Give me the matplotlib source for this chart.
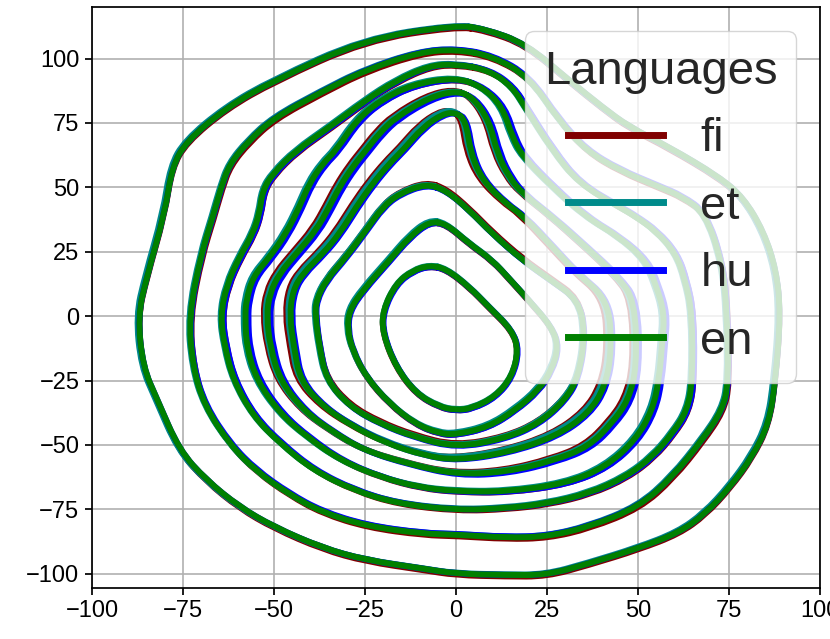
import numpy as np
import matplotlib
matplotlib.use("Agg")
import matplotlib.pyplot as plt
from matplotlib.path import Path
from matplotlib.patches import PathPatch
from matplotlib.lines import Line2D

plt.rcParams['font.family'] = ['Liberation Sans', 'DejaVu Sans']

# contour levels (outer -> inner), traced from the top going left
c1_x = [0, -25, -50, -63, -74, -78, -80, -85, -87.4, -86, -82, -76, -68.6, -59.5, -50, -36.6, -24.7, -9,
        0, 13.7, 25, 36.6, 50.3, 61.3, 68.6, 75.5, 81.4, 86, 87.8, 89.2, 88, 84.5, 79, 72.3, 58.5, 47.6,
        40.2, 31.1, 19.2, 8]
c1_y = [113, 107.5, 91.5, 81, 68, 58, 40, 15, 0, -19.7, -32.6, -52, -63.6, -74, -81.8, -90, -94.7, -98,
        -100, -100.5, -100.5, -96, -90, -84, -76.6, -66, -54.6, -41.7, -24.8, 1, 18, 33, 46, 54.1, 65.7,
        73.5, 81.2, 91.6, 105.8, 111.5]

c2_x = [0, -10, -25, -37, -50, -57, -62.2, -64.5, -66.8, -70, -73.4, -72.3, -69, -62, -55, -46, -37,
        -24.6, -9, 0, 13.7, 25, 36.6, 50.3, 59.5, 67.7, 73.2, 74.9, 74.5, 73.2, 68.6, 62, 55.8, 44.8,
        35.7, 28.3, 20.1, 10]
c2_y = [103.6, 102.5, 95.5, 87, 77, 68, 59, 50, 38.5, 24, 0, -19.7, -35, -50, -60, -69, -76, -81.5,
        -84.5, -84.8, -86, -85.6, -81.8, -74, -62.4, -48, -36.5, -26, 1, 20.4, 39.9, 46.5, 50.2, 56.7,
        64.4, 76, 92.9, 101]

c3_x = [0, -7.3, -16.5, -25, -34.8, -44, -50.3, -53.1, -54, -55.8, -59.5, -63, -64.7, -63.5, -61.1,
        -55.6, -48.3, -39.2, -28.2, -16.3, 0, 13.7, 25.2, 36.6, 46.7, 54, 59.5, 63.6, 65, 64.9, 63, 60.4,
        55, 49, 44.8, 33.8, 26.5, 19.2, 15.5, 9.1]
c3_y = [97.9, 97.2, 91.4, 83.6, 73.3, 64.2, 55.3, 48.8, 39.8, 32, 22.9, 12, 0, -12, -25, -39, -49.4,
        -59.8, -67.5, -72.7, -75.3, -74.6, -72.7, -68.8, -62.4, -54.6, -45.5, -36.5, -24.8, 1, 14, 24.3,
        33, 39, 42.4, 51.5, 64.4, 80.7, 89, 95.5]

c4_x = [0, -11.9, -21, -27.4, -32.9, -36.6, -40.3, -43, -46.7, -51.2, -55.8, -57.6, -57.9, -57.5,
        -54.7, -48.3, -41, -31.8, -20.9, -10, 0, 13.7, 30.2, 41.2, 49.4, 54, 55.8, 56.7, 57.3, 55, 52.1,
        44.8, 35.7, 26.5, 18.3, 15.5, 12.8, 7.3]
c4_y = [92.7, 90, 83.6, 75.9, 64.4, 59.2, 51.4, 42.4, 32, 22.9, 15.2, 6.1, 0, -12, -25, -37.8, -46.8,
        -55.9, -62.4, -66.5, -68, -68.2, -65, -58.5, -48, -36.5, -24.8, -10, 1, 12, 21.7, 30.8, 38.5,
        50.2, 62, 69.6, 81.2, 89]

c5_x = [0, -7.3, -16.5, -21, -24.7, -28.4, -32, -34.8, -38.4, -43.9, -48.5, -51.2, -52, -51, -48.3,
        -41.9, -34.6, -25.4, -13.5, 0, 14, 27, 36.4, 42.8, 47.4, 49.7, 49.2, 44, 35.7, 26.5, 18.3, 14.6,
        11.4, 9.1, 4.6]
c5_y = [87.5, 84.9, 77.2, 71, 64.4, 57.9, 50.1, 42.4, 33.3, 24.2, 16.5, 8.7, 0, -12, -25, -36.5,
        -44.2, -52, -57.2, -61.5, -60.5, -56, -50.7, -41.7, -32.6, -19.7, 6.2, 16, 26.9, 38.5, 47.6, 54,
        63.1, 76, 85.1]

c6_x = [0, -3.7, -9.1, -14.6, -18.3, -22.9, -27.4, -32, -36.6, -42.1, -44.8, -45.7, -44.5, -42.8,
        -36.4, -28.2, -19, -9, 0, 14, 27.3, 36.4, 41, 42.8, 41.9, 33, 26.5, 18.5, 13.7, 7.3, 4.1, 2.7]
c6_y = [79.1, 78.5, 73.3, 64.4, 59.2, 51.4, 42.4, 32, 24.2, 16.5, 10, 0, -12, -25, -35.2, -42.9, -49.4,
        -54, -56, -53, -46.8, -37.8, -27.4, -13.2, 6.2, 17, 27, 39, 43.7, 52.8, 63.1, 75.9]

c7_x = [-8.2, -15.6, -20.1, -24.7, -30.2, -35.7, -38.4, -38.6, -37.5, -35.5, -29.1, -20.9, -11.7, 0,
        13.5, 22.7, 30, 33.7, 35.5, 33.7, 26, 18.3, 10, 3.7, -2.7]
c7_y = [51.4, 47.5, 42.4, 33.3, 22.9, 13.9, 6.1, 0, -12, -25, -35.2, -41.7, -46.8, -51, -47.5, -41.7,
        -32.6, -23.5, -6.7, 6.2, 14, 21.7, 32, 41.1, 48.8]

c8_x = [-7.3, -12.8, -18.3, -25.6, -29.3, -29.8, -28.4, -24.7, -18.3, -11, -4.6, 0, 9, 16.3, 22.7,
        26.3, 28.2, 26.3, 20, 15, 10, 3.7, -2.7]
c8_y = [36.8, 30.7, 21.6, 10, 2.2, -5, -13.2, -23.5, -33.9, -42, -45.5, -46, -43, -36.5, -28.7, -21,
        -11.9, -4.1, 6.2, 14, 21.7, 28.1, 35.9]

c9_x = [-7.3, -11.9, -16.5, -20.1, -20.1, -16.5, -11, -4.6, 0, 4.4, 10.8, 15.4, 17.2, 15.4, 9, 3.7, -2.7]
c9_y = [19.7, 17.7, 12.6, 2.2, -6.7, -19.7, -30, -35.2, -36.5, -35.8, -31.3, -23.5, -13.2, -5.4, 3.6,
        11.3, 18.4]

levels_x = [c1_x, c2_x, c3_x, c4_x, c5_x, c6_x, c7_x, c8_x, c9_x]
levels_y = [c1_y, c2_y, c3_y, c4_y, c5_y, c6_y, c7_y, c8_y, c9_y]

# how far each language's contour sits from the en contour, per level
languages = ['fi', 'et', 'hu', 'en']
colors = ['#800000', '#008b8b', '#0000ff', '#008000']
fi_dx = [0, 0.3, 0.5, 0.5, -1, -1.2, 0, 0, 0]
fi_dy = [-0.6, -0.6, -0.4, -0.4, 0.6, 0.8, 0.7, -0.3, -0.3]
et_dx = [-0.5, -0.3, -0.3, -0.5, -0.5, -0.6, -0.3, -0.3, 0]
et_dy = [0.2, 0.3, 0.3, 0.3, 0.3, 0.8, 0.3, 0.5, 0.2]
hu_dx = [0, 0.2, 0.5, 0.8, 0.8, 0.5, 0.2, 0.2, 0.2]
hu_dy = [0, 0.3, 0, -0.3, -0.5, -0.2, -0.3, -0.3, -0.3]
en_dx = [0] * 9
en_dy = [0] * 9
shifts = {'fi': (fi_dx, fi_dy), 'et': (et_dx, et_dy), 'hu': (hu_dx, hu_dy), 'en': (en_dx, en_dy)}


def closed_curve(xs, ys):
    # quadratic bezier through the midpoints, read points used as control points
    pts = np.column_stack([xs, ys])
    mids = (pts + np.roll(pts, -1, axis=0)) / 2
    verts = [mids[-1]]
    codes = [Path.MOVETO]
    for i in range(len(pts)):
        verts += [pts[i], mids[i]]
        codes += [Path.CURVE3, Path.CURVE3]
    return Path(verts, codes)


fig = plt.figure(figsize=(8.3, 6.39), dpi=100)
ax = fig.add_axes([0.1108, 0.080, 0.877, 0.909])

for lang, col in zip(languages, colors):
    dx, dy = shifts[lang]
    for k in range(len(levels_x)):
        xs = np.array(levels_x[k]) + dx[k]
        ys = np.array(levels_y[k]) + dy[k]
        ax.add_patch(PathPatch(closed_curve(xs, ys), fill=False, edgecolor=col,
                               lw=4.3, joinstyle='round', capstyle='round'))

ax.set_xlim(-100, 100)
ax.set_ylim(-105.5, 120)
ax.set_xticks(np.arange(-100, 101, 25))
ax.set_yticks(np.arange(-100, 101, 25))
ax.grid(True, color='#b0b0b0', lw=1.2)
ax.set_axisbelow(True)
for s in ax.spines.values():
    s.set_linewidth(1.25)
ax.tick_params(labelsize=17, length=5, width=1.25, pad=4)

handles = [Line2D([0], [0], color=c, lw=5) for c in colors]
leg = ax.legend(handles, languages, title='Languages', fontsize=34, title_fontsize=34,
                loc='upper right', handlelength=2.0, handletextpad=0.8)
for t in leg.get_texts():
    t.set_color('0.15')
leg.get_title().set_color('0.15')

fig.savefig('out.png', dpi=100)
